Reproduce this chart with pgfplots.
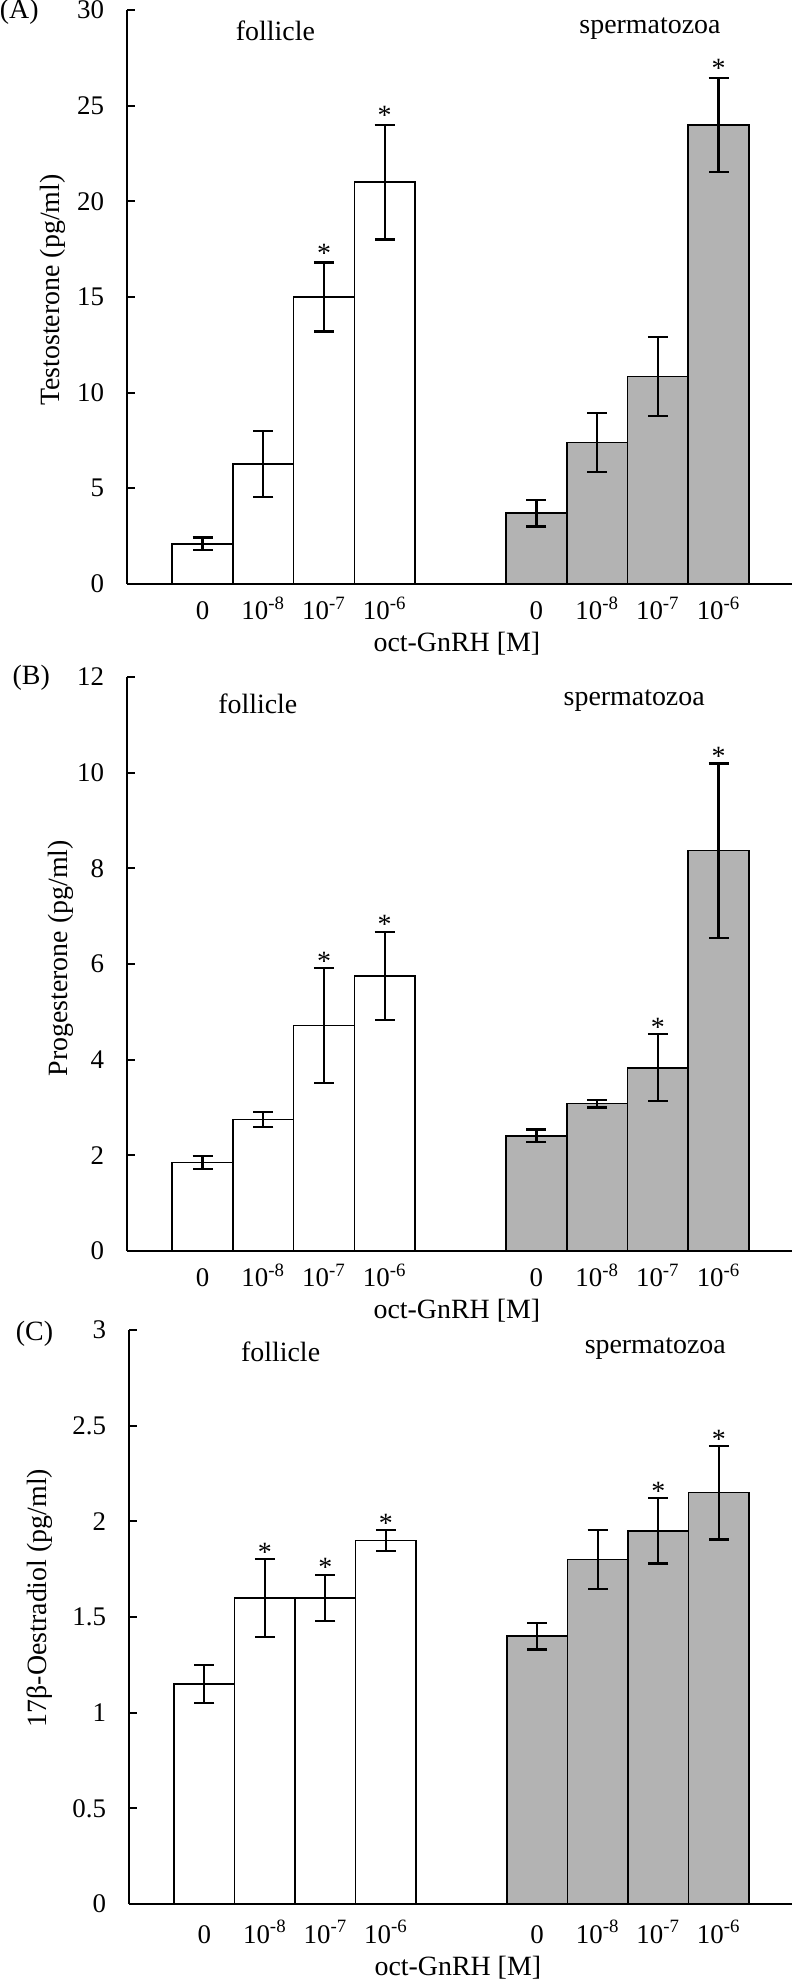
\documentclass[border=0pt]{standalone}
\usepackage{fontspec}
\setmainfont{Liberation Serif}
\usepackage{pgfplots}
\pgfplotsset{compat=1.18}
\definecolor{barg}{RGB}{179,179,179}
\newcommand{\lblfont}{\fontsize{14}{16}\selectfont}
\newcommand{\tkfont}{\fontsize{13.5}{15}\selectfont}
\pgfplotsset{
 panel/.style={
  scale only axis, width=332.5bp, height=287bp,
  xmin=-1.245, xmax=9.71, ymin=0,
  axis x line=bottom, axis y line=left,
  axis line style={-, line width=1bp, black},
  clip=false,
  xtick={0,1,2,3,5.5,6.5,7.5,8.5},
  xticklabels={0,10\textsuperscript{-8},10\textsuperscript{-7},10\textsuperscript{-6},0,10\textsuperscript{-8},10\textsuperscript{-7},10\textsuperscript{-6}},
  x tick style={draw=none},
  y tick style={line width=1bp, black},
  tick align=inside, major tick length=4bp,
  xticklabel style={anchor=base, yshift=-18bp},
  yticklabel style={anchor=east, xshift=-8bp},
  ticklabel style={font=\tkfont},
  /pgf/number format/assume math mode=true,
  label style={font=\lblfont},
  xlabel={oct-GnRH [M]},
  xlabel style={at={(axis description cs:0.496,0)}, anchor=base, yshift=-34bp},
 },
 barbase/.style={ybar, bar shift=0pt, bar width=1, draw=black, line width=0.8bp,
   error bars/y dir=both, error bars/y explicit,
   error bars/error bar style={line width=1.1bp, black},
   error bars/error mark options={rotate=90, mark size=5bp, line width=1.1bp, black}},
 fbar/.style={barbase, fill=white},
 sbar/.style={barbase, fill=barg},
 stars/.style={only marks, mark=none, nodes near coords={*},
   nodes near coords style={anchor=base, font=\lblfont, yshift=0bp}},
}
\begin{document}
\begin{tikzpicture}
\useasboundingbox (0,0) rectangle (396bp,990bp);
% ---------- (A) ----------
\begin{axis}[panel, at={(63.5bp,698bp)}, anchor=south west,
  ymax=30, ytick={0,5,...,30},
  ylabel={Testosterone (pg/ml)},
  ylabel style={at={(axis description cs:-0.1113,0.512)}, anchor=center}]
\addplot[fbar] coordinates {(0,2.1) +- (0,0.33) (1,6.27) +- (0,1.72) (2,15.0) +- (0,1.8) (3,21.0) +- (0,3.0)};
\addplot[sbar] coordinates {(5.5,3.7) +- (0,0.7) (6.5,7.4) +- (0,1.55) (7.5,10.85) +- (0,2.05) (8.5,24.0) +- (0,2.45)};
\addplot[stars] coordinates {(2,16.8) (3,24.0) (8.5,26.45)};
\node[anchor=base, font=\lblfont] at (axis cs:1.2,28.4) {follicle};
\node[anchor=base, font=\lblfont] at (axis cs:7.37,28.75) {spermatozoa};
\node[font=\lblfont] at (rel axis cs:-0.162,0.9965) {(A)};
\end{axis}
% ---------- (B) ----------
\begin{axis}[panel, at={(63.5bp,364.5bp)}, anchor=south west,
  ymax=12, ytick={0,2,...,12},
  ylabel={Progesterone (pg/ml)},
  ylabel style={at={(axis description cs:-0.0992,0.51)}, anchor=center}]
\addplot[fbar] coordinates {(0,1.85) +- (0,0.13) (1,2.75) +- (0,0.15) (2,4.71) +- (0,1.2) (3,5.75) +- (0,0.92)};
\addplot[sbar] coordinates {(5.5,2.41) +- (0,0.13) (6.5,3.08) +- (0,0.08) (7.5,3.83) +- (0,0.7) (8.5,8.37) +- (0,1.82)};
\addplot[stars] coordinates {(2,5.87) (3,6.63) (7.5,4.49) (8.5,10.15)};
\node[anchor=base, font=\lblfont] at (axis cs:0.91,11.23) {follicle};
\node[anchor=base, font=\lblfont] at (axis cs:7.11,11.4) {spermatozoa};
\node[font=\lblfont] at (rel axis cs:-0.144,0.998) {(B)};
\end{axis}
% ---------- (C) ----------
\begin{axis}[panel, at={(64.5bp,38bp)}, anchor=south west, width=331.5bp,
  ymax=3, ytick={0,0.5,...,3},
  xticklabel style={yshift=-1.5bp},
  xlabel style={yshift=-1.5bp},
  ylabel={17β-Oestradiol (pg/ml)},
  ylabel style={at={(axis description cs:-0.1342,0.533)}, anchor=center}]
\addplot[fbar] coordinates {(0,1.15) +- (0,0.1) (1,1.6) +- (0,0.205) (2,1.6) +- (0,0.12) (3,1.9) +- (0,0.055)};
\addplot[sbar] coordinates {(5.5,1.4) +- (0,0.07) (6.5,1.8) +- (0,0.155) (7.5,1.95) +- (0,0.17) (8.5,2.15) +- (0,0.245)};
\addplot[stars] coordinates {(1,1.79) (2,1.71) (3,1.94) (7.5,2.11) (8.5,2.38)};
\node[anchor=base, font=\lblfont] at (axis cs:1.26,2.833) {follicle};
\node[anchor=base, font=\lblfont] at (axis cs:7.45,2.875) {spermatozoa};
\node[font=\lblfont] at (rel axis cs:-0.1425,0.993) {(C)};
\end{axis}
\end{tikzpicture}
\end{document}
